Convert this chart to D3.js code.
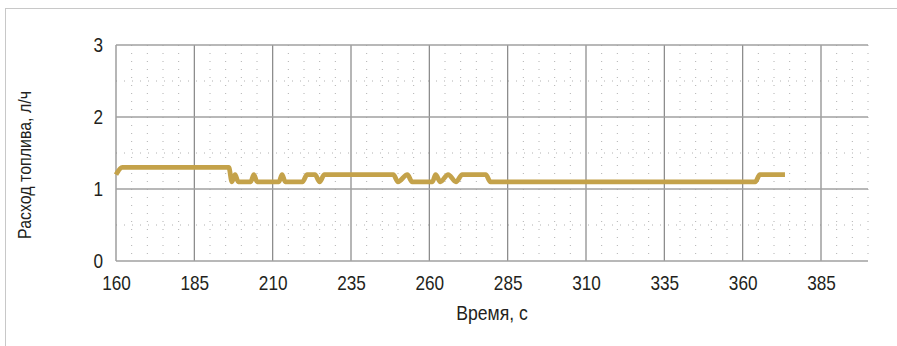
<!DOCTYPE html>
<html>
<head>
<meta charset="utf-8">
<script src="https://cdn.jsdelivr.net/npm/d3@7"></script>
<style>
  html, body { margin: 0; padding: 0; background: #fff; }
  svg { display: block; }
  text { font-family: "Liberation Sans", Arial, sans-serif; fill: #231f20; }
</style>
</head>
<body>
<svg id="chart" width="897" height="346"></svg>
<script>
// Fuel consumption over time
const times  = [160, 162, 196, 197, 198, 199, 203, 204, 205, 212, 213, 214, 219.5, 221, 223.5, 225, 226.5,
                248.5, 250, 253, 254.5, 261, 262, 263.5, 266, 268.5, 270.5, 278, 279.5, 364, 365.5, 373.5];
const fuel   = [1.2, 1.3, 1.3, 1.1, 1.2, 1.1, 1.1, 1.2, 1.1, 1.1, 1.2, 1.1, 1.1, 1.2, 1.2, 1.1, 1.2,
                1.2, 1.1, 1.2, 1.1, 1.1, 1.2, 1.1, 1.2, 1.1, 1.2, 1.2, 1.1, 1.1, 1.2, 1.2];
const xTicks = [160, 185, 210, 235, 260, 285, 310, 335, 360, 385];
const yTicks = [0, 1, 2, 3];
const xMinor = d3.range(165, 401, 5).filter(v => (v - 160) % 25 !== 0);
const yMinor = [0.5, 1.5, 2.5];
const xTitle = "Время, с";
const yTitle = "Расход топлива, л/ч";

const svg = d3.select("#chart");
const margin = { left: 116, right: 29, top: 45, bottom: 85 };
const W = 897, H = 346;

const x = d3.scaleLinear().domain([160, 400]).range([margin.left, W - margin.right]);
const y = d3.scaleLinear().domain([0, 3]).range([H - margin.bottom, margin.top]);

// horizontally condense a text element around its own origin
function condense(sel, size, squeeze) {
  sel.each(function () {
    const t = d3.select(this);
    const x0 = +t.attr("x") || 0;
    t.attr("x", x0 / squeeze)
     .attr("transform", `scale(${squeeze},1)`)
     .style("font-size", size + "px");
  });
}

// outer frame
svg.append("rect")
  .attr("x", 5.5).attr("y", 8.5)
  .attr("width", 1000).attr("height", 1000)
  .attr("fill", "none").attr("stroke", "#c8c8c8").attr("stroke-width", 1);

const grid = svg.append("g");

// minor dotted grid
grid.selectAll(".xm").data(xMinor).join("line")
  .attr("x1", d => x(d)).attr("x2", d => x(d))
  .attr("y1", y(3)).attr("y2", y(0))
  .attr("stroke", "#b0b0b0").attr("stroke-width", 1).attr("stroke-dasharray", "1,7");
grid.selectAll(".ym").data(yMinor).join("line")
  .attr("x1", x(160)).attr("x2", x(400))
  .attr("y1", d => y(d)).attr("y2", d => y(d))
  .attr("stroke", "#b0b0b0").attr("stroke-width", 1).attr("stroke-dasharray", "1,7");

// major grid
grid.selectAll(".xg").data(xTicks).join("line")
  .attr("x1", d => x(d)).attr("x2", d => x(d))
  .attr("y1", y(3)).attr("y2", y(0))
  .attr("stroke", "#858585").attr("stroke-width", 1.2);
grid.selectAll(".yg").data(yTicks).join("line")
  .attr("x1", x(160)).attr("x2", x(400))
  .attr("y1", d => y(d)).attr("y2", d => y(d))
  .attr("stroke", "#a0a0a0").attr("stroke-width", 1.4);

// axes (labels only)
const xAxis = svg.append("g")
  .attr("transform", `translate(0,${y(0)})`)
  .call(d3.axisBottom(x).tickValues(xTicks).tickSize(0).tickPadding(15));
const yAxis = svg.append("g")
  .attr("transform", `translate(${x(160)},0)`)
  .call(d3.axisLeft(y).tickValues(yTicks).tickSize(0).tickPadding(13).tickFormat(d3.format("d")));
[xAxis, yAxis].forEach(a => {
  a.select(".domain").remove();
  a.selectAll("text").attr("fill", "#231f20")
    .style("font-family", "'Liberation Sans', Arial, sans-serif")
    .call(condense, 20, 0.86);
});

// data line
const pts = times.map((t, i) => [t, fuel[i]]);
svg.append("path")
  .datum(pts)
  .attr("fill", "none")
  .attr("stroke", "#c4a24a")
  .attr("stroke-width", 4.8)
  .attr("stroke-linejoin", "round")
  .attr("d", d3.line().curve(d3.curveMonotoneX).x(d => x(d[0])).y(d => y(d[1])));

// titles
svg.append("g")
  .attr("transform", `translate(${(x(160) + x(400)) / 2},320)`)
  .append("text")
  .attr("text-anchor", "middle")
  .text(xTitle)
  .call(condense, 20, 0.88);
svg.append("g")
  .attr("transform", `translate(31,${(y(0) + y(3)) / 2 + 12}) rotate(-90)`)
  .append("text")
  .attr("text-anchor", "middle")
  .text(yTitle)
  .call(condense, 19, 0.84);
</script>
</body>
</html>
